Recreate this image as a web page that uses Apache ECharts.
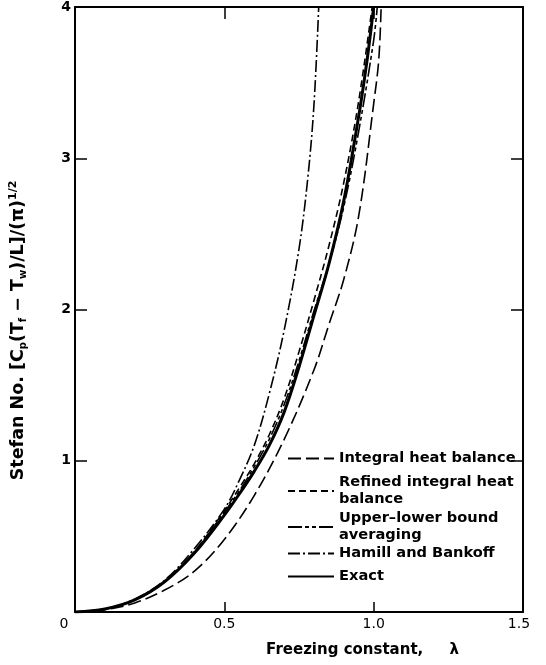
<!DOCTYPE html>
<html>
<head>
<meta charset="utf-8">
<script src="https://cdn.jsdelivr.net/npm/echarts@6/dist/echarts.min.js"></script>
<style>
html,body{margin:0;padding:0;background:#fff;}
#chart{width:546px;height:665px;}
</style>
</head>
<body>
<div id="chart"></div>
<script>
// ---- data ----
const seriesNames = ['Integral heat balance', 'Refined integral heat balance', 'Upper\u2013lower bound averaging', 'Hamill and Bankoff', 'Exact'];

const integralX = [0, 0.1, 0.2, 0.3, 0.4, 0.5, 0.6, 0.7, 0.8, 0.85, 0.9, 0.95, 1.0, 1.017, 1.025];
const integralY = [0, 0.015, 0.06, 0.145, 0.27, 0.48, 0.77, 1.14, 1.6, 1.9, 2.2, 2.62, 3.36, 3.65, 4.0];

const refinedX = [0, 0.1, 0.2, 0.3, 0.4, 0.5, 0.55, 0.6, 0.65, 0.7, 0.75, 0.8, 0.85, 0.9, 0.95, 0.995];
const refinedY = [0, 0.02, 0.08, 0.2, 0.4, 0.67, 0.82, 0.98, 1.17, 1.41, 1.72, 2.06, 2.42, 2.84, 3.38, 4.0];

const boundX = [0, 0.1, 0.2, 0.3, 0.4, 0.5, 0.55, 0.6, 0.65, 0.7, 0.75, 0.8, 0.85, 0.9, 0.95, 1.0, 1.012];
const boundY = [0, 0.02, 0.08, 0.2, 0.4, 0.66, 0.8, 0.96, 1.14, 1.37, 1.66, 1.99, 2.3, 2.68, 3.18, 3.78, 4.0];

const hamillX = [0, 0.1, 0.2, 0.3, 0.4, 0.5, 0.55, 0.6, 0.65, 0.7, 0.75, 0.78, 0.8, 0.816];
const hamillY = [0, 0.02, 0.085, 0.21, 0.42, 0.68, 0.87, 1.1, 1.44, 1.86, 2.4, 2.88, 3.35, 4.0];

const exactX = [0, 0.1, 0.2, 0.3, 0.4, 0.5, 0.55, 0.6, 0.65, 0.7, 0.75, 0.8, 0.85, 0.9, 0.95, 0.978, 1.0];
const exactY = [0, 0.02, 0.08, 0.2, 0.39, 0.64, 0.78, 0.93, 1.1, 1.32, 1.62, 1.96, 2.3, 2.72, 3.28, 3.65, 4.0];

const xTicks = [0, 0.5, 1.0, 1.5];
const xTickLabels = ['0', '0.5', '1.0', '1.5'];
const yTicks = [0, 1, 2, 3, 4];
const yTickLabels = ['', '1', '2', '3', '4'];

// ---- chart ----
const FONT = 'DejaVu Sans';
const pairs = (xs, ys) => xs.map((x, i) => [x, ys[i]]);

const chart = echarts.init(document.getElementById('chart'), null, {renderer: 'canvas'});

function lineSeries(name, xs, ys, type, width) {
  return {
    name: name, type: 'line', xAxisIndex: 0, yAxisIndex: 0,
    data: pairs(xs, ys), symbol: 'none', smooth: 0.35, clip: true,
    lineStyle: {color: '#000', width: width, type: type},
    itemStyle: {color: '#000'},
    emphasis: {disabled: true}, silent: true
  };
}

function legendItem(name, top, label) {
  return {
    data: [name], left: 282, top: top - 5, orient: 'vertical',
    itemWidth: 46, itemHeight: 12, itemGap: 0, selectedMode: false,
    itemStyle: {opacity: 0},
    formatter: () => label,
    textStyle: {fontFamily: FONT, fontSize: 14.6, fontWeight: 'bold', color: '#000', lineHeight: 17}
  };
}

const axisLineStyle = {onZero: false, lineStyle: {color: '#000', width: 2}};
const tickStyle = {lineStyle: {color: '#000', width: 1.5}};

const option = {
  animation: false,
  backgroundColor: '#fff',
  grid: {left: 74, right: 23, top: 7, bottom: 53, containLabel: false},
  xAxis: [
    {
      type: 'value', position: 'bottom', min: 0, max: 1.5, interval: 0.5,
      axisLine: axisLineStyle,
      axisTick: Object.assign({inside: true, length: 10}, tickStyle),
      splitLine: {show: false},
      axisLabel: {
        margin: 5, fontFamily: FONT, fontSize: 14, color: '#000',
        formatter: v => {
          const i = xTicks.findIndex(t => Math.abs(t - v) < 1e-9);
          const s = i >= 0 ? xTickLabels[i] : '';
          if (i === 0) return '{z|' + s + '}';
          if (i === xTicks.length - 1) return '{e|' + s + '}';
          return s;
        },
        rich: {
          z: {fontFamily: FONT, fontSize: 14, color: '#000', padding: [0, 22, 0, 0]},
          e: {fontFamily: FONT, fontSize: 14, color: '#000', padding: [0, 8, 0, 0]}
        }
      },
      name: 'Freezing constant,     \u03bb', nameLocation: 'middle', nameGap: 31,
      nameTextStyle: {fontFamily: FONT, fontSize: 15, fontWeight: 'bold', color: '#000', padding: [0, 0, 0, 127]}
    },
    {
      type: 'value', position: 'top', min: 0, max: 1.5, interval: 0.5,
      axisLine: axisLineStyle,
      axisTick: Object.assign({inside: true, length: 12}, tickStyle),
      axisLabel: {show: false}, splitLine: {show: false}
    }
  ],
  yAxis: [
    {
      type: 'value', position: 'left', min: 0, max: 4, interval: 1,
      axisLine: axisLineStyle,
      axisTick: Object.assign({inside: true, length: 12}, tickStyle),
      splitLine: {show: false},
      axisLabel: {
        margin: 4, fontFamily: FONT, fontSize: 14, fontWeight: 'bold', color: '#000',
        formatter: v => { const i = yTicks.findIndex(t => Math.abs(t - v) < 1e-9); return i >= 0 ? yTickLabels[i] : ''; }
      },
      name: 'Stefan No. [C{sub|p}(T{sub|f} \u2212 T{sub|w})/L]/(\u03c0){sup|1/2}',
      nameLocation: 'middle', nameGap: 47, nameRotate: 90,
      nameTextStyle: {
        fontFamily: FONT, fontSize: 17.5, fontWeight: 'bold', color: '#000', padding: [0, 42, 0, 0],
        rich: {
          sub: {fontFamily: FONT, fontSize: 10, fontWeight: 'bold', color: '#000', verticalAlign: 'bottom', padding: [9, 0, 0, 0]},
          sup: {fontFamily: FONT, fontSize: 11, fontWeight: 'bold', color: '#000', verticalAlign: 'top', padding: [0, 0, 9, 0]}
        }
      }
    },
    {
      type: 'value', position: 'right', min: 0, max: 4, interval: 1,
      axisLine: axisLineStyle,
      axisTick: Object.assign({inside: true, length: 12}, tickStyle),
      axisLabel: {show: false}, splitLine: {show: false}
    }
  ],
  legend: [
    legendItem(seriesNames[0], 450, 'Integral heat balance'),
    legendItem(seriesNames[1], 474, 'Refined integral heat\nbalance'),
    legendItem(seriesNames[2], 510, 'Upper\u2013lower bound\naveraging'),
    legendItem(seriesNames[3], 545, 'Hamill and Bankoff'),
    legendItem(seriesNames[4], 568, 'Exact')
  ],
  series: [
    lineSeries(seriesNames[0], integralX, integralY, [13, 5], 1.6),
    lineSeries(seriesNames[1], refinedX, refinedY, [7, 4], 1.6),
    lineSeries(seriesNames[2], boundX, boundY, [14, 3, 4, 3, 4, 3], 1.6),
    lineSeries(seriesNames[3], hamillX, hamillY, [12, 3, 2, 3], 1.6),
    lineSeries(seriesNames[4], exactX, exactY, 'solid', 3)
  ]
};

chart.setOption(option);
</script>
</body>
</html>
